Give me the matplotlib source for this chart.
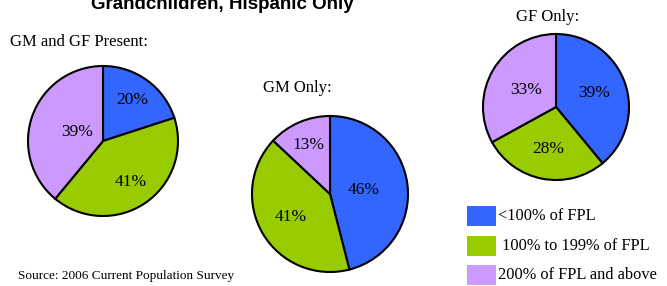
import numpy as np
import matplotlib.pyplot as plt
from matplotlib.patches import Rectangle

plt.rcParams['font.family'] = 'Liberation Serif'

categories = ['<100% of FPL', ' 100% to 199% of FPL', '200% of FPL and above']
colors = ['#3366FF', '#99CC00', '#CC99FF']

pie_titles = ['GM and GF Present:', 'GM Only:', 'GF Only:']
gm_gf = [20, 41, 39]
gm_only = [46, 41, 13]
gf_only = [39, 28, 33]
series = [gm_gf, gm_only, gf_only]

W, H = 667, 286
fig = plt.figure(figsize=(W / 100, H / 100), dpi=100)
ax = fig.add_axes([0, 0, 1, 1])

# pixel layout, y measured from the top
centers = [(103, 141), (330, 194), (556, 107)]
radii = [75, 78, 73]
title_pos = [(10, 42, 'left'), (297, 88, 'center'), (548, 17, 'center')]
label_dist = [[0.67, 0.66, 0.36], [0.44, 0.58, 0.68], [0.55, 0.58, 0.47]]

for vals, (cx, cy), r, name, (tx, ty, ha), ld in zip(series, centers, radii, pie_titles,
                                                     title_pos, label_dist):
    wedges, _ = ax.pie(vals, colors=colors, startangle=90, counterclock=False,
                       center=(cx, H - cy), radius=r,
                       wedgeprops=dict(edgecolor='black', linewidth=1.5))
    for w, v, d in zip(wedges, vals, ld):
        a = np.deg2rad((w.theta1 + w.theta2) / 2)
        ax.text(cx + d * r * np.cos(a), H - cy + d * r * np.sin(a), f'{v}%',
                fontsize=12.5, ha='center', va='center')
    ax.text(tx, H - ty, name, fontsize=12, ha=ha, va='center')

ax.set_xlim(0, W)
ax.set_ylim(0, H)
ax.set_aspect('equal')
ax.axis('off')

ax.text(222, H - 9, 'Grandchildren, Hispanic Only', fontsize=13.5, fontweight='bold',
        family='Liberation Sans', ha='center', va='baseline')

# legend
for i, (lab, c) in enumerate(zip(categories, colors)):
    top = 206 + i * 29.5
    ax.add_patch(Rectangle((467, H - top - 20), 29, 20, facecolor=c, edgecolor='none'))
    ax.text(498, H - top - 10, lab, fontsize=11.8, ha='left', va='center')

ax.text(18, H - 276, 'Source: 2006 Current Population Survey', fontsize=9.5,
        ha='left', va='center')

fig.savefig('out.png', dpi=100)
